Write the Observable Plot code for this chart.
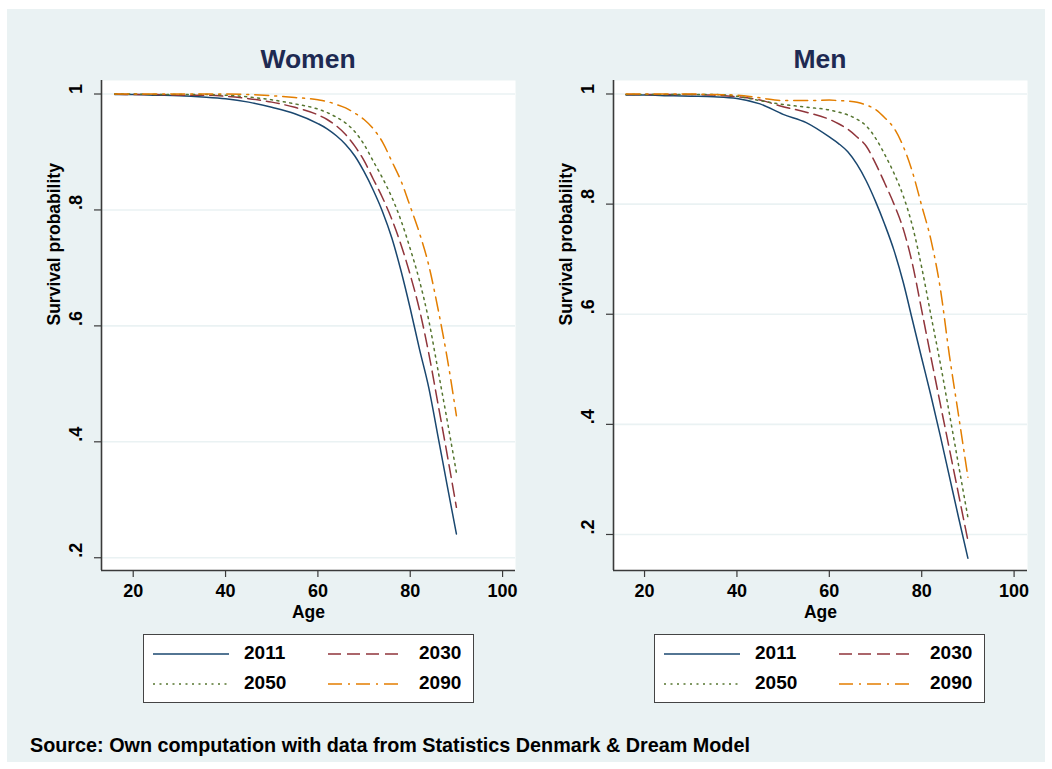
<!DOCTYPE html>
<html><head><meta charset="utf-8">
<script src="https://cdn.jsdelivr.net/npm/d3@7"></script>
<script src="https://cdn.jsdelivr.net/npm/@observablehq/plot@0.6"></script>
<style>
body{margin:0;background:#fff;font-family:"Liberation Sans",Arial,Helvetica,sans-serif;}
#page{position:relative;width:1052px;height:769px;overflow:hidden;background:#fff;}
#bg{position:absolute;left:7px;top:9px;width:1038px;height:753px;background:#EAF2F3;}
.title{position:absolute;top:46px;width:414px;text-align:center;font-size:26.5px;line-height:27px;font-weight:bold;color:#1e2a52;}
.panel{position:absolute;top:40px;}
.legend{position:absolute;top:634px;width:331px;height:69px;box-sizing:border-box;border:1.5px solid #444;background:#fff;}
.legend .lab{position:absolute;font-size:19px;line-height:20px;font-weight:bold;color:#000;}
.legend svg{position:absolute;}
#caption{position:absolute;left:30px;top:735px;font-size:19.8px;line-height:20px;font-weight:bold;color:#000;white-space:nowrap;}
</style></head>
<body>
<div id="page">
  <div id="bg"></div>
  <div class="title" style="left:101px">Women</div>
  <div class="title" style="left:613px">Men</div>
  <div id="women" class="panel" style="left:20px"></div>
  <div id="men" class="panel" style="left:532px"></div>
  <div id="legW" class="legend" style="left:143px"></div>
  <div id="legM" class="legend" style="left:654px"></div>
  <div id="caption">Source: Own computation with data from Statistics Denmark &amp; Dream Model</div>
</div>
<script>
// ---- data ----
const ages = [16,20,25,30,35,40,45,50,55,60,62,64,66,68,70,72,74,76,78,80,82,84,86,88,90];
const years = ["2011","2030","2050","2090"];
const colors = ["#1A476F","#90353B","#55752F","#E37E00"];
const dashes = [null,"13,6","2,4.5","14,6,2,6"];

const women2011 = [0.999,0.999,0.998,0.997,0.995,0.992,0.986,0.977,0.966,0.949,0.940,0.928,0.913,0.893,0.866,0.834,0.797,0.752,0.695,0.630,0.560,0.494,0.410,0.325,0.241];
const women2030 = [1.000,0.999,0.999,0.998,0.998,0.996,0.992,0.986,0.977,0.964,0.956,0.945,0.930,0.910,0.885,0.853,0.821,0.784,0.740,0.688,0.628,0.553,0.466,0.378,0.287];
const women2050 = [1.000,1.000,0.999,0.999,0.999,0.998,0.995,0.990,0.983,0.974,0.968,0.960,0.950,0.935,0.913,0.884,0.855,0.822,0.782,0.733,0.678,0.610,0.524,0.437,0.347];
const women2090 = [1.000,1.000,1.000,1.000,1.000,1.000,0.999,0.997,0.994,0.990,0.987,0.982,0.976,0.967,0.956,0.940,0.917,0.884,0.850,0.806,0.760,0.705,0.630,0.545,0.445];

const men2011 = [0.998,0.998,0.997,0.996,0.995,0.992,0.982,0.963,0.948,0.922,0.910,0.895,0.872,0.842,0.805,0.763,0.716,0.658,0.589,0.520,0.452,0.380,0.305,0.230,0.157];
const men2030 = [0.999,0.999,0.999,0.999,0.998,0.995,0.989,0.977,0.967,0.954,0.946,0.936,0.922,0.905,0.874,0.838,0.800,0.755,0.691,0.607,0.522,0.438,0.355,0.272,0.189];
const men2050 = [0.999,0.999,0.999,0.999,0.999,0.996,0.988,0.981,0.976,0.971,0.967,0.962,0.954,0.942,0.920,0.890,0.856,0.815,0.760,0.685,0.598,0.512,0.419,0.325,0.231];
const men2090 = [1.000,1.000,1.000,1.000,0.999,0.998,0.993,0.988,0.988,0.989,0.988,0.987,0.985,0.980,0.972,0.957,0.938,0.905,0.858,0.797,0.735,0.648,0.525,0.415,0.304];

const xTicks = [20,40,60,80,100];
const yTicks = [1,0.8,0.6,0.4,0.2];
const yLabels = ["1",".8",".6",".4",".2"];
const yTitle = "Survival probability";
const xTitle = "Age";
const captionText = "Source: Own computation with data from Statistics Denmark & Dream Model";

// ---- build ----
function rows(series) {
  const out = [];
  series.forEach((vals, k) => vals.forEach((p, i) => out.push({year: years[k], age: ages[i], p})));
  return out;
}
const FONT = '"Liberation Sans",Arial,Helvetica,sans-serif';
const axisColor = "#3a3a3a";
const gridColor = "#EAF2F3";

function panel(series, xDomain, yDomain) {
  const data = rows(series);
  return Plot.plot({
    width: 510, height: 590,
    marginLeft: 81, marginRight: 15, marginTop: 40, marginBottom: 60,
    style: {background: "transparent", fontFamily: FONT, fontSize: "18px", fontWeight: "bold", color: "#000", overflow: "visible"},
    x: {domain: xDomain},
    y: {domain: yDomain},
    marks: [
      Plot.frame({fill: "white", stroke: "none"}),
      Plot.gridY(yTicks, {stroke: gridColor, strokeOpacity: 1, strokeWidth: 1.6}),
      Plot.axisX({ticks: xTicks, tickSize: 7, tickPadding: 6.5, fontSize: 18, fontWeight: "bold", label: null, stroke: axisColor, strokeWidth: 1.2}),
      Plot.axisY({ticks: yTicks, tickSize: 7, tickFormat: () => "", label: null, stroke: axisColor, strokeWidth: 1.2}),
      Plot.ruleX([xDomain[0]], {stroke: axisColor, strokeWidth: 1.6}),
      Plot.ruleY([yDomain[0]], {stroke: axisColor, strokeWidth: 1.6}),
      Plot.text(yTicks, {y: d => d, text: (d, i) => yLabels[i], frameAnchor: "left", dx: -25, rotate: -90, fontSize: 18, fontWeight: "bold", fill: "#000"}),
      Plot.text([yTitle], {frameAnchor: "left", dx: -47, rotate: -90, fontSize: 17.5, fontWeight: "bold", fill: "#000"}),
      Plot.text([xTitle], {frameAnchor: "bottom", dy: 47, fontSize: 17.5, fontWeight: "bold", fill: "#000"}),
      ...years.map((yr, k) => Plot.line(data.filter(d => d.year === yr), {
        x: "age", y: "p", stroke: colors[k], strokeWidth: 1.5,
        strokeDasharray: dashes[k] || undefined, curve: "monotone-x"
      }))
    ]
  });
}

document.getElementById("women").append(panel([women2011, women2030, women2050, women2090], [13.13, 102.8], [0.178, 1.0233]));
document.getElementById("men").append(panel([men2011, men2030, men2050, men2090], [13.28, 102.9], [0.1346, 1.0245]));

function legend(el) {
  const rowsY = [19, 49];
  const pos = [[8.5, 100], [183.5, 275]];
  years.forEach((yr, k) => {
    const r = Math.floor(k / 2), c = k % 2;
    const ns = "http://www.w3.org/2000/svg";
    const svg = document.createElementNS(ns, "svg");
    svg.setAttribute("width", 77); svg.setAttribute("height", 6);
    svg.style.left = pos[c][0] + "px"; svg.style.top = (rowsY[r] - 3) + "px";
    const ln = document.createElementNS(ns, "line");
    ln.setAttribute("x1", 0); ln.setAttribute("x2", 76); ln.setAttribute("y1", 3); ln.setAttribute("y2", 3);
    ln.setAttribute("stroke", colors[k]); ln.setAttribute("stroke-width", 1.5);
    if (dashes[k]) ln.setAttribute("stroke-dasharray", dashes[k]);
    svg.append(ln);
    el.append(svg);
    const t = document.createElement("div");
    t.className = "lab"; t.textContent = yr;
    t.style.left = pos[c][1] + "px"; t.style.top = (rowsY[r] - 11) + "px";
    el.append(t);
  });
}
legend(document.getElementById("legW"));
legend(document.getElementById("legM"));
document.getElementById("caption").textContent = captionText;
</script>
</body></html>
